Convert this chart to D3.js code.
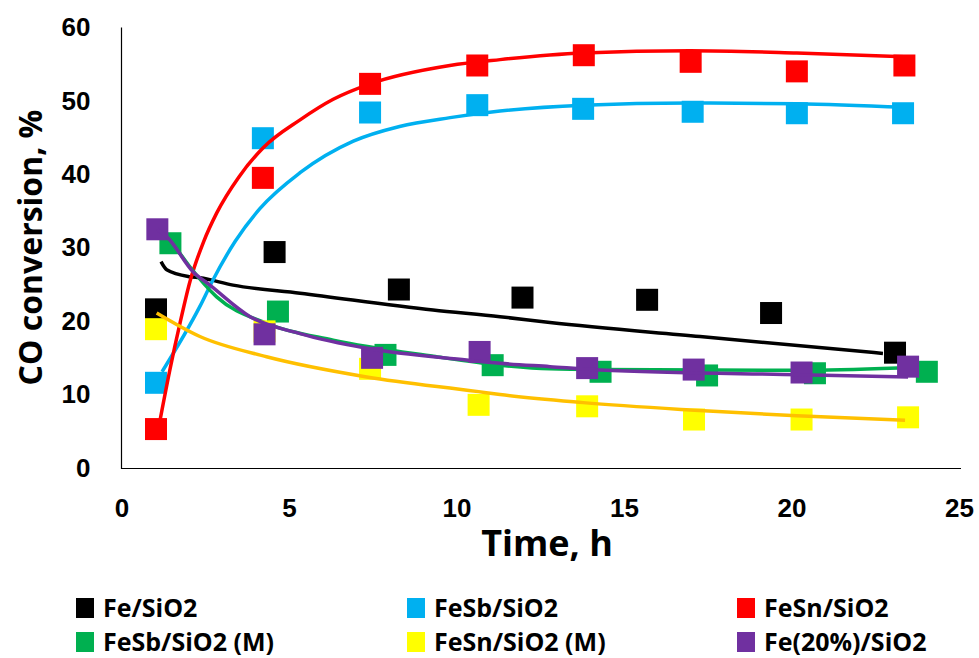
<!DOCTYPE html>
<html>
<head>
<meta charset="utf-8">
<script src="https://cdn.jsdelivr.net/npm/d3@7"></script>
<style>
  body { margin: 0; background: #fff; }
  svg { display: block; font-family: "Open Sans", "Liberation Sans", sans-serif; font-weight: bold; }
</style>
</head>
<body>
<div id="container"></div>
<script>
// measured points (time h, CO conversion %)
var feX = [1.03, 4.57, 8.28, 11.97, 15.69, 19.39, 23.09];
var feY = [21.6, 29.4, 24.3, 23.2, 22.9, 21.1, 15.7];
var fesbX = [1.03, 4.22, 7.42, 10.62, 13.78, 17.05, 20.16, 23.33];
var fesbY = [11.6, 44.9, 48.4, 49.4, 48.9, 48.5, 48.3, 48.3];
var fesnX = [1.03, 4.22, 7.42, 10.62, 13.8, 16.99, 20.16, 23.37];
var fesnY = [5.3, 39.5, 52.3, 54.8, 56.2, 55.3, 54.0, 54.8];
var fesbMX = [1.46, 4.67, 7.88, 11.08, 14.3, 17.48, 20.7, 24.04];
var fesbMY = [30.6, 21.3, 15.4, 14.0, 13.1, 12.6, 12.9, 13.1];
var fesnMX = [1.03, 4.27, 7.42, 10.66, 13.9, 17.09, 20.3, 23.48];
var fesnMY = [18.9, 18.6, 13.5, 8.6, 8.4, 6.6, 6.6, 6.9];
var fe20X = [1.07, 4.27, 7.48, 10.69, 13.9, 17.08, 20.3, 23.48];
var fe20Y = [32.5, 18.2, 15.0, 15.8, 13.6, 13.4, 13.0, 13.8];

// trendlines
var feTrendX = [1.18, 1.35, 2.04, 2.34, 3.33, 5.33, 9.3, 11.3, 12.79, 17.27, 22.73];
var feTrendY = [28.1, 27.0, 26.05, 25.9, 24.9, 23.8, 21.5, 20.6, 19.8, 17.9, 15.6];
var fesbTrendX = [1.21, 2.34, 2.73, 3.4, 4.13, 5.33, 6.92, 8.3, 9.81, 11.3, 13.78, 16.97, 20.16, 23.39];
var fesbTrendY = [13.1, 22.0, 25.6, 30.9, 35.3, 40.2, 44.5, 46.5, 47.7, 48.6, 49.4, 49.7, 49.6, 49.1];
var fesnTrendX = [1.15, 1.45, 1.75, 2.05, 2.45, 2.84, 3.5, 4.23, 5.33, 6.32, 7.42, 9.8, 11.3, 13.78, 16.97, 20.16, 23.36];
var fesnTrendY = [6.5, 13.5, 19.8, 25.5, 30.8, 34.7, 39.6, 43.6, 47.4, 50.2, 52.3, 54.8, 55.6, 56.5, 56.8, 56.5, 56.0];
var fesbMTrendX = [1.4, 2.04, 2.84, 4.33, 6.32, 9.31, 11.3, 12.79, 14.28, 20.25, 23.75, 24.07];
var fesbMTrendY = [31.5, 27.4, 23.3, 19.7, 17.4, 15.2, 14.0, 13.5, 13.4, 13.3, 13.7, 13.75];
var fesnMTrendX = [1.05, 2.34, 4.33, 7.32, 10.66, 11.3, 13.78, 16.97, 20.16, 23.39];
var fesnMTrendY = [21.1, 17.9, 15.15, 12.4, 10.4, 10.0, 8.9, 7.9, 7.1, 6.5];
var fe20TrendX = [1.06, 1.35, 2.14, 2.64, 3.84, 5.33, 7.32, 10.3, 11.3, 12.79, 14.28, 20.25, 23.48];
var fe20TrendY = [32.5, 31.5, 26.7, 24.9, 20.6, 18.3, 16.3, 14.7, 14.25, 13.8, 13.35, 12.7, 12.4];

var seriesNames = ["Fe/SiO2", "FeSb/SiO2", "FeSn/SiO2", "FeSb/SiO2 (M)", "FeSn/SiO2 (M)", "Fe(20%)/SiO2"];
var markerColors = ["#000000", "#00B0F0", "#FF0000", "#00B050", "#FFFF00", "#7030A0"];
var trendColors = ["#000000", "#00B0F0", "#FF0000", "#00B050", "#FFC000", "#7030A0"];
var xTicks = [0, 5, 10, 15, 20, 25];
var yTicks = [0, 10, 20, 30, 40, 50, 60];

var series = [
  {x: feX, y: feY, tx: feTrendX, ty: feTrendY},
  {x: fesbX, y: fesbY, tx: fesbTrendX, ty: fesbTrendY},
  {x: fesnX, y: fesnY, tx: fesnTrendX, ty: fesnTrendY},
  {x: fesbMX, y: fesbMY, tx: fesbMTrendX, ty: fesbMTrendY},
  {x: fesnMX, y: fesnMY, tx: fesnMTrendX, ty: fesnMTrendY},
  {x: fe20X, y: fe20Y, tx: fe20TrendX, ty: fe20TrendY}
];

var width = 979, height = 658;
var svg = d3.select("#container").append("svg")
  .attr("width", width)
  .attr("height", height);

var x = d3.scaleLinear().domain([0, 25]).range([121.5, 959]);
var y = d3.scaleLinear().domain([0, 60]).range([468, 27.3]);

// axes, labels only
svg.append("g")
  .attr("transform", "translate(0,468)")
  .call(d3.axisBottom(x).tickValues(xTicks).tickSize(0).tickPadding(31))
  .call(g => g.select(".domain").remove())
  .selectAll("text")
    .attr("font-size", 26).attr("font-family", null).attr("fill", "#000");

svg.append("g")
  .attr("transform", "translate(121.5,0)")
  .call(d3.axisLeft(y).tickValues(yTicks).tickSize(0).tickPadding(31))
  .call(g => g.select(".domain").remove())
  .selectAll("text")
    .attr("font-size", 26).attr("font-family", null).attr("fill", "#000");

// plot frame (left + bottom)
svg.append("path")
  .attr("d", "M121.5,27.5V468.5H961")
  .attr("fill", "none")
  .attr("stroke", "#000")
  .attr("stroke-width", 1.2);

var line = d3.line()
  .x(function(d) { return x(d[0]); })
  .y(function(d) { return y(d[1]); })
  .curve(d3.curveMonotoneX);

var ms = 22;
series.forEach(function(s, i) {
  var pts = s.x.map(function(v, j) { return [v, s.y[j]]; });
  var trend = s.tx.map(function(v, j) { return [v, s.ty[j]]; });
  var g = svg.append("g").attr("class", "series");
  g.selectAll("rect")
    .data(pts)
    .enter().append("rect")
    .attr("x", function(d) { return x(d[0]) - ms / 2; })
    .attr("y", function(d) { return y(d[1]) - ms / 2; })
    .attr("width", ms)
    .attr("height", ms)
    .attr("fill", markerColors[i]);
  g.append("path")
    .datum(trend)
    .attr("d", line)
    .attr("fill", "none")
    .attr("stroke", trendColors[i])
    .attr("stroke-width", 3.5);
});

// axis titles
svg.append("text")
  .attr("x", 547).attr("y", 556)
  .attr("text-anchor", "middle")
  .attr("font-size", 36)
  .text("Time, h");

svg.append("text")
  .attr("transform", "translate(41.5,247.5) rotate(-90)")
  .attr("text-anchor", "middle")
  .attr("font-size", 32)
  .text("CO conversion, %");

// legend
var legX = [76, 407, 737];
var legY = [608, 642];
var leg = svg.append("g").selectAll("g")
  .data(seriesNames)
  .enter().append("g")
  .attr("transform", function(d, i) { return "translate(" + legX[i % 3] + "," + legY[Math.floor(i / 3)] + ")"; });
leg.append("rect")
  .attr("x", 0).attr("y", -10)
  .attr("width", 18).attr("height", 20)
  .attr("fill", function(d, i) { return markerColors[i]; });
leg.append("text")
  .attr("x", 27).attr("y", 9)
  .attr("font-size", 25)
  .text(function(d) { return d; });
</script>
</body>
</html>
